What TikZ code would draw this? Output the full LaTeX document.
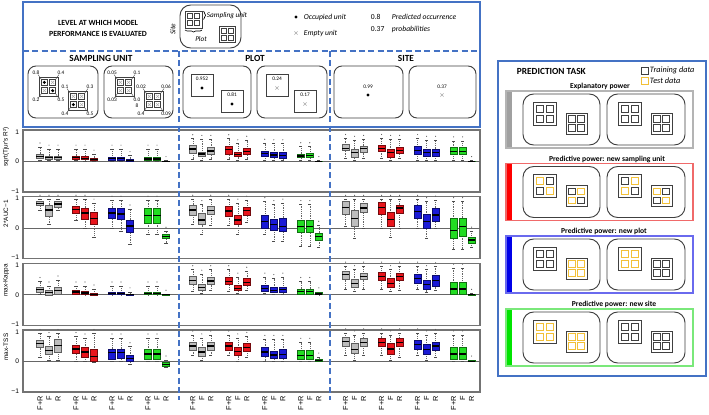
\documentclass[tikz,border=0pt]{standalone}
\usepackage{fontspec}
\setmainfont{Carlito}
\newfontfamily\arialf{Liberation Sans}
\usetikzlibrary{decorations.pathreplacing}
\definecolor{frblue}{HTML}{4472C4}
\definecolor{grp0}{HTML}{BDBDBD}
\definecolor{grp1}{HTML}{E8141B}
\definecolor{grp2}{HTML}{1A1AD6}
\definecolor{grp3}{HTML}{22DD22}
\definecolor{tecol}{HTML}{F2C037}
\definecolor{trcol}{HTML}{404040}
\definecolor{empcol}{HTML}{AAAAAA}
\definecolor{pgray}{HTML}{B4B4B4}
\definecolor{bgray}{HTML}{A0A0A0}
\definecolor{pred}{HTML}{F06A6A}
\definecolor{bred}{HTML}{FF0000}
\definecolor{pblue}{HTML}{6A6AEE}
\definecolor{bblue}{HTML}{0000E8}
\definecolor{pgreen}{HTML}{7AE87A}
\definecolor{bgreen}{HTML}{00E400}

% box plot: x, colour, lo, q1, med, q3, hi
\newcommand\bxp[7]{%
  \draw[whisk] (#1,{-29.5*(#3)}) -- (#1,{-29.5*(#4)});
  \draw[whisk] (#1,{-29.5*(#6)}) -- (#1,{-29.5*(#7)});
  \draw[capl] ({#1-1.6},{-29.5*(#3)}) -- ({#1+1.6},{-29.5*(#3)});
  \draw[capl] ({#1-1.6},{-29.5*(#7)}) -- ({#1+1.6},{-29.5*(#7)});
  \fill[black!65] (#1,{-29.5*(#7)-4}) circle (0.45pt);
  \filldraw[fill=#2,draw=#2!50!black,line width=0.45pt] ({#1-3.6},{-29.5*(#4)}) rectangle ({#1+3.6},{-29.5*(#6)});
  \draw[medl] ({#1-3.6},{-29.5*(#5)}) -- ({#1+3.6},{-29.5*(#5)});
}
\newcommand\drawboxes[1]{%
  \foreach \p/\g/\b/\lo/\qa/\md/\qb/\hi in {#1}{%
    \pgfmathsetmacro\xx{40+152.8*\p+36*\g+9*\b}
    \colorlet{curc}{grp\g}
    \bxp{\xx}{curc}{\lo}{\qa}{\md}{\qb}{\hi}
  }%
}
% grid of four cells: x, y, w, TL, TR, BL, BR colours
\newcommand\cgrid[7]{%
  \draw[trcol,gl] (#1,#2) rectangle ++(#3,#3);
  \draw[#4,gl] ({#1+0.13*#3},{#2+0.13*#3}) rectangle ++({0.305*#3},{0.305*#3});
  \draw[#5,gl] ({#1+0.565*#3},{#2+0.13*#3}) rectangle ++({0.305*#3},{0.305*#3});
  \draw[#6,gl] ({#1+0.13*#3},{#2+0.565*#3}) rectangle ++({0.305*#3},{0.305*#3});
  \draw[#7,gl] ({#1+0.565*#3},{#2+0.565*#3}) rectangle ++({0.305*#3},{0.305*#3});
}
\newcommand\occ[2]{\fill[black] ({#1},{#2}) circle (1.3pt);}
\newcommand\emp[2]{\draw[empcol,line width=0.5pt] ({#1-1.6},{#2-1.6}) -- ({#1+1.6},{#2+1.6}) ({#1-1.6},{#2+1.6}) -- ({#1+1.6},{#2-1.6});}
\newcommand\gridm[7]{%
  #4{#1+0.2825*#3}{#2+0.2825*#3}
  #5{#1+0.7175*#3}{#2+0.2825*#3}
  #6{#1+0.2825*#3}{#2+0.7175*#3}
  #7{#1+0.7175*#3}{#2+0.7175*#3}
}
% corner labels of a grid: x, y, w, TL, TR, BL, BR, name
\newcommand\glab[8]{%
  \node[sm,anchor=south] (#8tl) at ({#1-3},{#2-2}) {#4};
  \node[sm,anchor=south] (#8tr) at ({#1+#3+3},{#2-2}) {#5};
  \node[sm,anchor=north] (#8bl) at ({#1-3},{#2+#3+2}) {#6};
  \node[sm,anchor=north] (#8br) at ({#1+#3+3},{#2+#3+2}) {#7};
  \draw[leader] ({#1-1},{#2-2.5}) -- ({#1+2.5},{#2+2.5});
  \draw[leader] ({#1+#3+1},{#2-2.5}) -- ({#1+#3-2.5},{#2+2.5});
  \draw[leader] ({#1-1},{#2+#3+2.5}) -- ({#1+2.5},{#2+#3-2.5});
  \draw[leader] ({#1+#3+1},{#2+#3+2.5}) -- ({#1+#3-2.5},{#2+#3-2.5});
}
\newcommand\pbox[3]{% Y, frame colour, bar colour
  \fill[#3] (506,#1) rectangle (512,{#1+57});
  \draw[#2,line width=0.8pt] (506,#1) rectangle (693,{#1+57});
  \draw[rbox,rounded corners=8pt] (523,{#1+3}) rectangle (600,{#1+54});
  \draw[rbox,rounded corners=8pt] (607,{#1+3}) rectangle (685,{#1+54});
}
\newcommand\cpanel[2]{% top T, name
  \draw[pnl] (23,#1) rectangle (480,{#1+62});
  \draw[zline] (23,{#1+31.5}) -- (480,{#1+31.5});
  \node[tickl] (#2t1) at (20,{#1+2}) {1};
  \node[tickl] (#2t0) at (20,{#1+31.5}) {0};
  \node[tickl] (#2tm) at (20,{#1+61}) {−1};
}

\begin{document}
\begin{tikzpicture}[x=0.75pt,y=-0.75pt,
  bluefr/.style={draw=frblue,line width=1.8pt},
  bluedash/.style={draw=frblue,line width=1.5pt,dash pattern=on 4.5pt off 2.5pt},
  pnl/.style={draw=black!55,line width=0.9pt},
  zline/.style={draw=black!60,line width=0.7pt},
  tickl/.style={anchor=east,font=\arialf\fontsize{5}{5}\selectfont,inner sep=0.5pt},
  ylab/.style={rotate=90,font=\arialf\fontsize{4.8}{5}\selectfont,inner sep=0pt},
  xlab/.style={rotate=90,anchor=east,font=\arialf\fontsize{5.5}{6}\selectfont,inner sep=0pt},
  whisk/.style={draw=black!60,line width=0.35pt,densely dotted},
  capl/.style={draw=black!70,line width=0.5pt},
  medl/.style={draw=black,line width=1pt},
  rbox/.style={draw=black!75,line width=0.7pt,rounded corners=6pt},
  gl/.style={line width=0.65pt},
  sm/.style={font=\fontsize{4}{4.3}\selectfont,inner sep=0pt,align=center},
  leader/.style={draw=black!70,line width=0.3pt},
  sqb/.style={draw=black!75,line width=0.7pt},
  itl/.style={anchor=west,font=\itshape\fontsize{5.7}{6}\selectfont,inner sep=0.5pt},
  plab/.style={font=\bfseries\fontsize{5.7}{6.5}\selectfont,inner sep=0.5pt},
  hlab/.style={font=\bfseries\fontsize{7}{8}\selectfont,inner sep=0.5pt},
]
\fill[white] (0,0) rectangle (709,414);
\useasboundingbox (0,0) rectangle (709,414);

% ===== header =====
\draw[bluefr] (23,2) rectangle (480,127);
\node[font=\bfseries\fontsize{5.9}{8}\selectfont,align=center] (lvl) at (98,28.5) {LEVEL AT WHICH MODEL\\PERFORMANCE IS EVALUATED};
\node[rotate=90,font=\itshape\fontsize{5.5}{6}\selectfont,inner sep=0pt] (site) at (173,29) {Site};
\draw[rbox,rounded corners=8pt] (180,5) rectangle (241,48);
\begin{scope}[gl/.style={line width=0.6pt}]
  \cgrid{185}{11}{17}{trcol}{trcol}{trcol}{trcol}
  \cgrid{219}{26}{16}{trcol}{trcol}{trcol}{trcol}
\end{scope}
\draw[decorate,decoration={brace,amplitude=1.5pt},line width=0.5pt] (203.5,11) -- (203.5,19.5);
\node[itl,font=\itshape\fontsize{5.4}{6}\selectfont] (su) at (206,15.5) {Sampling unit};
\draw[decorate,decoration={brace,amplitude=1.5pt},line width=0.5pt] (202,30) -- (185,30);
\node[font=\itshape\fontsize{5.4}{6}\selectfont,inner sep=0.5pt] (plt) at (201,39) {Plot};
\occ{296}{17}
\node[itl] (occl) at (303,17) {Occupied unit};
\emp{296}{33}
\node[itl] (empl) at (303,33) {Empty unit};
\node[itl,font=\fontsize{5.7}{6}\selectfont] (n08) at (370,17) {0.8};
\node[itl,font=\fontsize{5.7}{6}\selectfont] (n037) at (370,29) {0.37};
\node[itl] (pocc) at (391,17) {Predicted occurrence};
\node[itl] (pprob) at (391,29) {probabilities};

\draw[bluedash] (23,51) -- (480,51);
\node[hlab] (hsu) at (101,58) {SAMPLING UNIT};
\node[hlab] (hpl) at (255,58) {PLOT};
\node[hlab] (hsi) at (406,58) {SITE};

% sampling unit panel
\draw[rbox] (28,66) rectangle (98,118);
\draw[rbox] (104,66) rectangle (173,118);
\begin{scope}[gl/.style={line width=0.55pt}]
  \cgrid{39}{77}{19}{trcol}{trcol}{trcol}{trcol}
  \cgrid{68}{91}{19}{trcol}{trcol}{trcol}{trcol}
  \cgrid{115}{77}{19}{trcol}{trcol}{trcol}{trcol}
  \cgrid{144}{91}{19}{trcol}{trcol}{trcol}{trcol}
\end{scope}
\gridm{39}{77}{19}{\occ}{\emp}{\emp}{\occ}
\gridm{68}{91}{19}{\emp}{\emp}{\occ}{\emp}
\gridm{115}{77}{19}{\emp}{\emp}{\emp}{\emp}
\gridm{144}{91}{19}{\emp}{\emp}{\emp}{\emp}
\glab{39}{77}{19}{0.8}{0.4}{0.2}{0.5}{ga}
\glab{68}{91}{19}{0.1}{0.3}{0.4}{0.5}{gb}
\glab{115}{77}{19}{0.05}{0.1}{0.03}{0.0\\8}{gc}
\glab{144}{91}{19}{0.02}{0.06}{0.4}{0.09}{gd}

% plot panel
\draw[rbox] (183,66) rectangle (251,118);
\draw[rbox] (257,66) rectangle (327,118);
\draw[sqb] (191,74) rectangle ++(22,22);
\draw[sqb] (221,90) rectangle ++(22,22);
\draw[sqb] (266,74) rectangle ++(22,22);
\draw[sqb] (294,90) rectangle ++(22,22);
\node[sm] (pa) at (202,79) {0.952}; \occ{202}{88}
\node[sm] (pb) at (232,95) {0.81}; \occ{232}{104}
\node[sm] (pc) at (277,79) {0.24}; \emp{277}{88}
\node[sm] (pd) at (305,95) {0.17}; \emp{305}{104}

% site panel
\draw[rbox] (334,66) rectangle (403,118);
\draw[rbox] (409,66) rectangle (476,118);
\node[sm] (sa) at (368,87) {0.99}; \occ{368}{95}
\node[sm] (sb) at (442,87) {0.37}; \emp{442}{95}

% ===== chart panels =====
\cpanel{130}{ka}
\cpanel{196.7}{kb}
\cpanel{263.3}{kc}
\cpanel{330}{kd}
\node[ylab] (yla) at (6,147) {sqrt(Tjur's R²)};
\node[ylab] (ylb) at (6,213.7) {2*AUC−1};
\node[ylab] (ylc) at (6,280.3) {max-Kappa};
\node[ylab] (yld) at (6,347) {max-TSS};

\begin{scope}[shift={(0,161.5)}]
\drawboxes{0/0/0/0.05/0.11/0.18/0.26/0.49,0/0/1/0.03/0.08/0.13/0.19/0.42,0/0/2/0.03/0.08/0.13/0.19/0.42,
0/1/0/0.03/0.08/0.13/0.19/0.42,0/1/1/0.02/0.06/0.10/0.16/0.42,0/1/2/0/0.03/0.06/0.12/0.25,
0/2/0/0.02/0.05/0.10/0.15/0.42,0/2/1/0.02/0.05/0.10/0.15/0.42,0/2/2/0/0.02/0.04/0.09/0.20,
0/3/0/0.02/0.05/0.09/0.15/0.42,0/3/1/0.02/0.05/0.09/0.15/0.42,0/3/2/0/0/0.01/0.02/0.03,
1/0/0/0.09/0.28/0.42/0.55/0.77,1/0/1/0.05/0.18/0.25/0.32/0.75,1/0/2/0.09/0.23/0.36/0.47/0.75,
1/1/0/0.09/0.26/0.40/0.52/0.77,1/1/1/0.03/0.17/0.24/0.32/0.60,1/1/2/0.09/0.23/0.33/0.45/0.72,
1/2/0/0.05/0.18/0.26/0.35/0.62,1/2/1/0.03/0.14/0.22/0.30/0.60,1/2/2/0.03/0.10/0.20/0.30/0.60,
1/3/0/0.03/0.13/0.19/0.26/0.50,1/3/1/0.03/0.13/0.20/0.28/0.50,1/3/2/0/0/0.01/0.02/0.03,
2/0/0/0.10/0.37/0.45/0.57/0.78,2/0/1/0.05/0.15/0.30/0.43/0.72,2/0/2/0.10/0.32/0.43/0.53/0.75,
2/1/0/0.10/0.34/0.45/0.55/0.78,2/1/1/0.05/0.15/0.30/0.40/0.75,2/1/2/0.10/0.28/0.38/0.49/0.75,
2/2/0/0.05/0.24/0.37/0.52/0.78,2/2/1/0.05/0.17/0.30/0.42/0.72,2/2/2/0.05/0.17/0.30/0.43/0.72,
2/3/0/0.05/0.24/0.35/0.47/0.70,2/3/1/0.05/0.24/0.35/0.49/0.70,2/3/2/0/0/0.01/0.02/0.03}
\end{scope}

\begin{scope}[shift={(0,228.2)}]
\drawboxes{0/0/0/0.6/0.76/0.83/0.91/0.98,0/0/1/0.12/0.41/0.62/0.79/0.98,0/0/2/0.6/0.71/0.82/0.91/0.98,
0/1/0/0.25/0.49/0.64/0.75/0.98,0/1/1/0.0/0.29/0.52/0.69/0.98,0/1/2/-0.3/0.12/0.33/0.53/0.85,
0/2/0/0.0/0.34/0.52/0.69/0.95,0/2/1/-0.1/0.29/0.48/0.67/0.95,0/2/2/-0.55/-0.15/0.08/0.28/0.65,
0/3/0/-0.2/0.16/0.43/0.67/0.95,0/3/1/-0.2/0.16/0.43/0.67/0.95,0/3/2/-0.5/-0.33/-0.27/-0.21/-0.1,
1/0/0/0.12/0.44/0.62/0.79/0.98,1/0/1/-0.2/0.14/0.28/0.49/0.8,1/0/2/0.1/0.47/0.6/0.75/0.98,
1/1/0/0.1/0.4/0.58/0.75/0.98,1/1/1/-0.2/0.12/0.28/0.44/0.85,1/1/2/0.2/0.44/0.6/0.71/0.95,
1/2/0/-0.2/0.0/0.22/0.44/0.9,1/2/1/-0.45/-0.06/0.12/0.29/0.8,1/2/2/-0.45/-0.12/0.05/0.35/0.85,
1/3/0/-0.6/-0.15/0.05/0.26/0.8,1/3/1/-0.6/-0.15/0.05/0.26/0.8,1/3/2/-0.65/-0.4/-0.28/-0.16/0.1,
2/0/0/0.05/0.47/0.7/0.91/0.98,2/0/1/-0.35/0.08/0.33/0.59/0.98,2/0/2/0.0/0.53/0.68/0.85/0.98,
2/1/0/0.0/0.47/0.7/0.87/0.98,2/1/1/-0.3/0.08/0.3/0.53/0.98,2/1/2/0.0/0.52/0.68/0.79/0.98,
2/2/0/0.0/0.32/0.56/0.76/0.98,2/2/1/-0.35/-0.01/0.23/0.46/0.9,2/2/2/0.0/0.24/0.45/0.69/0.95,
2/3/0/-0.7/-0.33/-0.07/0.32/0.9,2/3/1/-0.7/-0.29/0.05/0.35/0.9,2/3/2/-0.65/-0.5/-0.4/-0.3/-0.1}
\end{scope}

\begin{scope}[shift={(0,294.8)}]
\drawboxes{0/0/0/0.0/0.09/0.17/0.26/0.45,0/0/1/0.0/0.0/0.07/0.15/0.3,0/0/2/0.0/0.03/0.15/0.26/0.5,
0/1/0/0.0/0.03/0.09/0.15/0.3,0/1/1/0.0/0.01/0.06/0.11/0.3,0/1/2/0/0/0.02/0.05/0.2,
0/2/0/0/0.01/0.05/0.09/0.3,0/2/1/0/0.01/0.05/0.09/0.3,0/2/2/0/0/0.01/0.03/0.1,
0/3/0/0/0.01/0.05/0.09/0.3,0/3/1/0/0.01/0.05/0.09/0.3,0/3/2/0/0/0/0.01/0.02,
1/0/0/0.12/0.35/0.48/0.62/0.85,1/0/1/0.05/0.15/0.25/0.35/0.7,1/0/2/0.15/0.35/0.47/0.6/0.85,
1/1/0/0.12/0.35/0.45/0.6/0.85,1/1/1/0.05/0.15/0.22/0.32/0.6,1/1/2/0.15/0.32/0.42/0.55/0.8,
1/2/0/0.05/0.12/0.22/0.32/0.6,1/2/1/0.02/0.07/0.15/0.24/0.55,1/2/2/0.03/0.07/0.17/0.26/0.6,
1/3/0/0/0.03/0.12/0.2/0.45,1/3/1/0/0.03/0.12/0.2/0.45,1/3/2/0/0.01/0.03/0.07/0.1,
2/0/0/0.2/0.51/0.68/0.8/0.97,2/0/1/0.12/0.24/0.38/0.51/0.85,2/0/2/0.2/0.51/0.63/0.74/0.97,
2/1/0/0.2/0.49/0.63/0.77/0.97,2/1/1/0.12/0.24/0.38/0.55/0.85,2/1/2/0.15/0.49/0.63/0.74/0.97,
2/2/0/0.2/0.4/0.55/0.69/0.97,2/2/1/0.1/0.2/0.35/0.49/0.85,2/2/2/0.15/0.28/0.48/0.66/0.95,
2/3/0/0/0.03/0.2/0.41/0.9,2/3/1/0/0.03/0.2/0.43/0.9,2/3/2/0/0/0.01/0.03/0.05}
\end{scope}

\begin{scope}[shift={(0,361.5)}]
\drawboxes{0/0/0/0.15/0.47/0.6/0.72/0.95,0/0/1/0.05/0.24/0.38/0.52/0.85,0/0/2/0.05/0.32/0.55/0.74/0.95,
0/1/0/0.0/0.28/0.42/0.55/0.85,0/1/1/0.0/0.15/0.32/0.47/0.8,0/1/2/-0.02/0.0/0.17/0.4/0.95,
0/2/0/0/0.09/0.3/0.43/0.8,0/2/1/0/0.12/0.3/0.43/0.8,0/2/2/-0.1/0.01/0.1/0.2/0.5,
0/3/0/0/0.07/0.25/0.4/0.8,0/3/1/0/0.07/0.25/0.4/0.8,0/3/2/-0.2/-0.17/-0.1/-0.02/0.05,
1/0/0/0.2/0.38/0.52/0.66/0.9,1/0/1/0.05/0.17/0.32/0.47/0.8,1/0/2/0.2/0.38/0.52/0.66/0.9,
1/1/0/0.2/0.38/0.52/0.66/0.9,1/1/1/0/0.2/0.33/0.47/0.8,1/1/2/0.15/0.35/0.48/0.62/0.85,
1/2/0/0.02/0.18/0.32/0.47/0.75,1/2/1/0/0.12/0.22/0.35/0.75,1/2/2/0/0.12/0.24/0.4/0.75,
1/3/0/0/0.07/0.2/0.38/0.65,1/3/1/0/0.07/0.2/0.38/0.65,1/3/2/0/0.01/0.04/0.09/0.15,
2/0/0/0.2/0.51/0.68/0.83/0.97,2/0/1/0.05/0.28/0.4/0.62/0.9,2/0/2/0.2/0.51/0.65/0.77/0.97,
2/1/0/0.2/0.51/0.65/0.8/0.97,2/1/1/0.05/0.23/0.42/0.62/0.9,2/1/2/0.15/0.51/0.64/0.77/0.97,
2/2/0/0.2/0.43/0.58/0.72/0.97,2/2/1/0.05/0.24/0.4/0.58/0.9,2/2/2/0.15/0.38/0.52/0.66/0.95,
2/3/0/0/0.06/0.25/0.49/0.9,2/3/1/0/0.06/0.25/0.49/0.9,2/3/2/0/0/0.01/0.03/0.05}
\end{scope}

% x labels
\foreach \p in {0,1,2}{\foreach \g in {0,1,2,3}{\foreach \b in {0,1,2}{
  \pgfmathsetmacro\xx{40+152.8*\p+36*\g+9*\b}
  \node[xlab] (xl\p\g\b) at (\xx,396) {\ifcase\b F+R\or F\or R\fi};
}}}

% dashed separators
\draw[bluedash] (179,51) -- (179,400);
\draw[bluedash] (330,51) -- (330,400);

% ===== prediction task =====
\draw[bluefr] (498,61) rectangle (706,376);
\node[anchor=west,font=\bfseries\fontsize{7}{8}\selectfont,inner sep=0.5pt] (ptask) at (516,71) {PREDICTION TASK};
\draw[trcol,line width=0.7pt] (641,67) rectangle ++(7,7);
\node[itl,font=\itshape\fontsize{6.2}{7}\selectfont] (trl) at (649,70.5) {Training data};
\draw[tecol,line width=0.7pt] (641,77) rectangle ++(7,7);
\node[itl,font=\itshape\fontsize{6.2}{7}\selectfont] (tel) at (649,80.5) {Test data};

\node[plab] (lex) at (600,86) {Explanatory power};
\pbox{91}{pgray}{bgray}
\cgrid{533}{102}{23}{trcol}{trcol}{trcol}{trcol}
\cgrid{566}{113}{21}{trcol}{trcol}{trcol}{trcol}
\cgrid{618}{102}{23}{trcol}{trcol}{trcol}{trcol}
\cgrid{651}{113}{21}{trcol}{trcol}{trcol}{trcol}

\node[plab] (lsu) at (607,159) {Predictive power: new sampling unit};
\pbox{163.5}{pred}{bred}
\cgrid{533}{174.5}{23}{tecol}{trcol}{trcol}{tecol}
\cgrid{566}{185.5}{21}{trcol}{tecol}{tecol}{trcol}
\cgrid{618}{174.5}{23}{trcol}{tecol}{tecol}{trcol}
\cgrid{651}{185.5}{21}{tecol}{trcol}{trcol}{tecol}

\node[plab] (lpl) at (604,231.5) {Predictive power: new plot};
\pbox{236}{pblue}{bblue}
\cgrid{533}{247}{23}{trcol}{trcol}{trcol}{trcol}
\cgrid{566}{258}{21}{tecol}{tecol}{tecol}{tecol}
\cgrid{618}{247}{23}{tecol}{tecol}{tecol}{tecol}
\cgrid{651}{258}{21}{trcol}{trcol}{trcol}{trcol}

\node[plab] (lsi) at (614,304) {Predictive power: new site};
\pbox{309}{pgreen}{bgreen}
\cgrid{533}{320}{23}{tecol}{tecol}{tecol}{tecol}
\cgrid{566}{331}{21}{tecol}{tecol}{tecol}{tecol}
\cgrid{618}{320}{23}{trcol}{trcol}{trcol}{trcol}
\cgrid{651}{331}{21}{trcol}{trcol}{trcol}{trcol}
\end{tikzpicture}
\end{document}
